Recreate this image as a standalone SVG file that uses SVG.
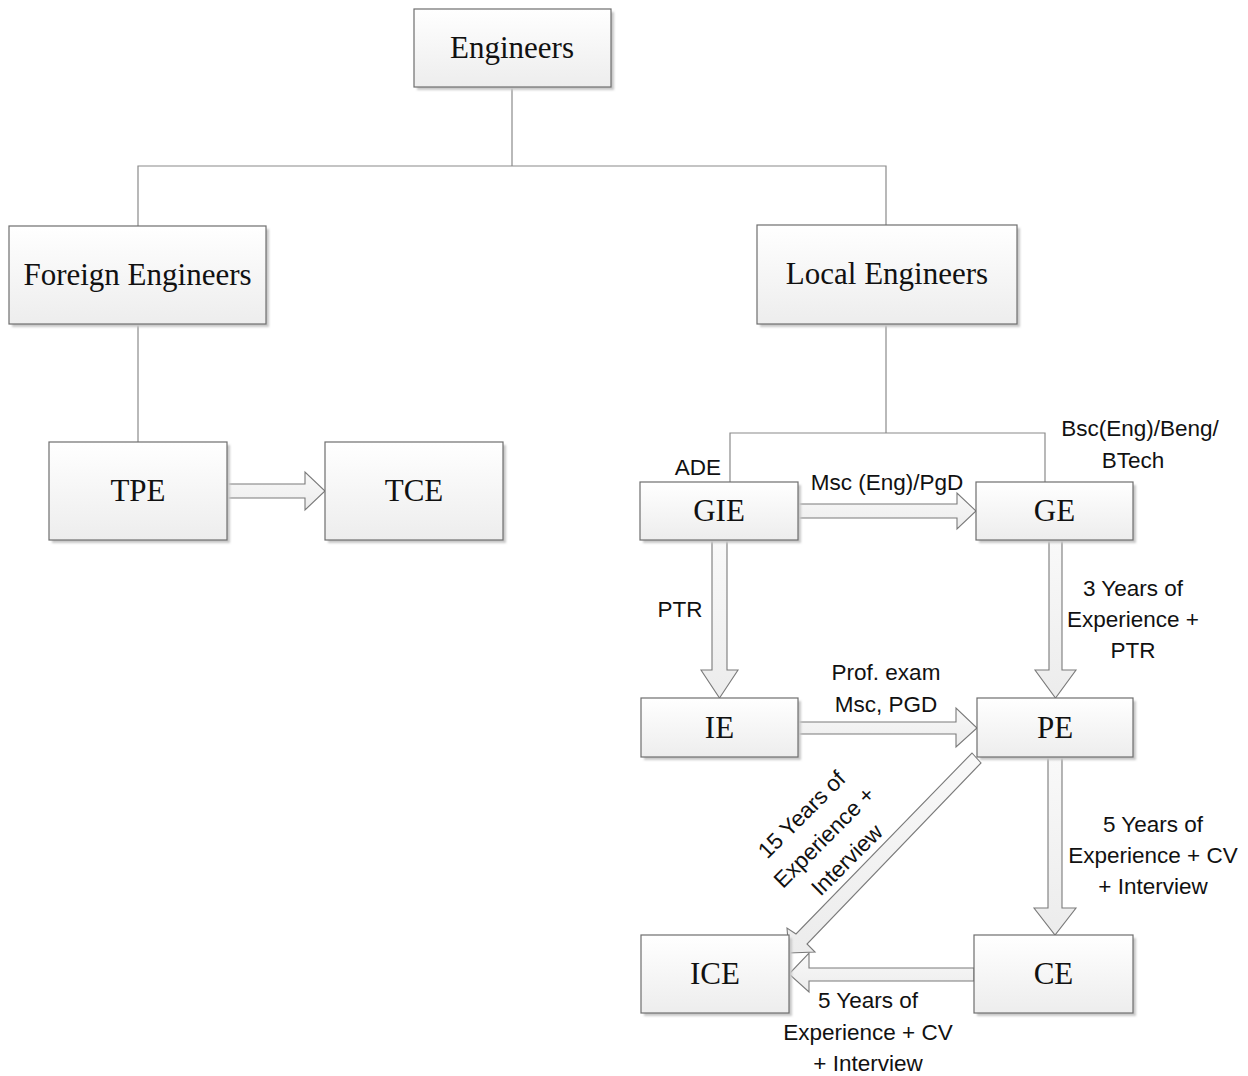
<svg xmlns="http://www.w3.org/2000/svg" width="1248" height="1076" viewBox="0 0 1248 1076">
<defs>
<linearGradient id="nodeFill" x1="0" y1="0" x2="0" y2="1">
<stop offset="0" stop-color="#ffffff"/>
<stop offset="1" stop-color="#ededed"/>
</linearGradient>
<linearGradient id="arrowFill" x1="0" y1="0" x2="0" y2="1">
<stop offset="0" stop-color="#f9f9f9"/>
<stop offset="1" stop-color="#ececec"/>
</linearGradient>
<filter id="shadow" x="-10%" y="-10%" width="130%" height="130%">
<feGaussianBlur stdDeviation="1.2"/>
</filter>
</defs>
<style>
.box{fill:url(#nodeFill);stroke:#6e6e6e;stroke-width:1.2}
.shd{fill:#c8c8c8;filter:url(#shadow)}
.nl{font-family:"Liberation Serif","Times New Roman",serif;font-size:31px;fill:#111;text-anchor:middle}
.line{fill:none;stroke:#8a8a8a;stroke-width:1.2}
.arr{fill:url(#arrowFill);stroke:#7a7a7a;stroke-width:1.1;stroke-linejoin:miter}
.lbl{font-family:"Liberation Sans",Arial,sans-serif;font-size:22.5px;fill:#111;text-anchor:middle}
</style>
<rect width="1248" height="1076" fill="#ffffff"/>

<g id="connectors">
<polyline class="line" points="512,87 512,166"/>
<polyline class="line" points="138,226 138,166 886,166 886,225"/>
<polyline class="line" points="138,324 138,442"/>
<polyline class="line" points="886,324 886,433"/>
<polyline class="line" points="730,482 730,433 1045,433 1045,482"/>
<polygon class="arr" points="227,484 305,484 305,472 325,491 305,510 305,498 227,498"/>
<polygon class="arr" points="798,504 957,504 957,493 976,511 957,529 957,518 798,518"/>
<polygon class="arr" points="712,540 712,670 701,670 719.5,698 738,670 727,670 727,540"/>
<polygon class="arr" points="1049,540 1049,670 1035,670 1055.5,698 1076,670 1062,670 1062,540"/>
<polygon class="arr" points="798,722 956,722 956,708 977,728 956,747 956,734 798,734"/>
<polygon class="arr" points="1048,757 1048,908 1034,908 1055,935 1076,908 1062,908 1062,757"/>
<polygon class="arr" points="974,968 809,968 809,953 789,974 809,992 809,981 974,981"/>
<polygon class="arr" points="972,753 981,763 807,944 815,952 789,953 787,928 796,934"/>
<text class="lbl" x="698" y="475">ADE</text>
<text class="lbl" x="887" y="490">Msc (Eng)/PgD</text>
<text class="lbl" x="1140" y="436">Bsc(Eng)/Beng/</text>
<text class="lbl" x="1133" y="468">BTech</text>
<text class="lbl" x="680" y="617">PTR</text>
<text class="lbl" x="1133" y="596">3 Years of</text>
<text class="lbl" x="1133" y="627">Experience +</text>
<text class="lbl" x="1133" y="658">PTR</text>
<text class="lbl" x="886" y="680">Prof. exam</text>
<text class="lbl" x="886" y="712">Msc, PGD</text>
<text class="lbl" x="1153" y="832">5 Years of</text>
<text class="lbl" x="1153" y="863">Experience + CV</text>
<text class="lbl" x="1153" y="894">+ Interview</text>
<text class="lbl" x="868" y="1008">5 Years of</text>
<text class="lbl" x="868" y="1040">Experience + CV</text>
<text class="lbl" x="868" y="1071">+ Interview</text>
<g transform="translate(824,837) rotate(-45)">
<text class="lbl" x="0" y="-24">15 Years of</text>
<text class="lbl" x="0" y="8">Experience +</text>
<text class="lbl" x="0" y="40">Interview</text>
</g>
</g>

<g id="node-engineers">
<rect class="shd" x="417" y="12" width="197" height="78"/>
<rect class="box" x="414" y="9" width="197" height="78"/>
<text class="nl" x="512" y="58">Engineers</text>
</g>
<g id="node-foreign">
<rect class="shd" x="12" y="229" width="257" height="98"/>
<rect class="box" x="9" y="226" width="257" height="98"/>
<text class="nl" x="137.5" y="285">Foreign Engineers</text>
</g>
<g id="node-local">
<rect class="shd" x="760" y="228" width="260" height="99"/>
<rect class="box" x="757" y="225" width="260" height="99"/>
<text class="nl" x="887" y="284">Local Engineers</text>
</g>
<g id="node-tpe">
<rect class="shd" x="52" y="445" width="178" height="98"/>
<rect class="box" x="49" y="442" width="178" height="98"/>
<text class="nl" x="138" y="501">TPE</text>
</g>
<g id="node-tce">
<rect class="shd" x="328" y="445" width="178" height="98"/>
<rect class="box" x="325" y="442" width="178" height="98"/>
<text class="nl" x="414" y="501">TCE</text>
</g>
<g id="node-gie">
<rect class="shd" x="643" y="485" width="158" height="58"/>
<rect class="box" x="640" y="482" width="158" height="58"/>
<text class="nl" x="719" y="521">GIE</text>
</g>
<g id="node-ge">
<rect class="shd" x="979" y="485" width="157" height="58"/>
<rect class="box" x="976" y="482" width="157" height="58"/>
<text class="nl" x="1054.5" y="521">GE</text>
</g>
<g id="node-ie">
<rect class="shd" x="644" y="701" width="157" height="59"/>
<rect class="box" x="641" y="698" width="157" height="59"/>
<text class="nl" x="719.5" y="737.5">IE</text>
</g>
<g id="node-pe">
<rect class="shd" x="980" y="701" width="156" height="59"/>
<rect class="box" x="977" y="698" width="156" height="59"/>
<text class="nl" x="1055" y="737.5">PE</text>
</g>
<g id="node-ice">
<rect class="shd" x="644" y="938" width="148" height="78"/>
<rect class="box" x="641" y="935" width="148" height="78"/>
<text class="nl" x="715" y="984">ICE</text>
</g>
<g id="node-ce">
<rect class="shd" x="977" y="938" width="159" height="78"/>
<rect class="box" x="974" y="935" width="159" height="78"/>
<text class="nl" x="1053.5" y="984">CE</text>
</g>
</svg>
